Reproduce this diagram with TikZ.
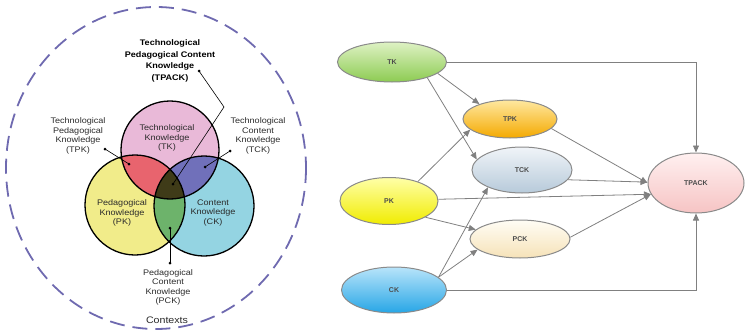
\documentclass[tikz,border=0pt]{standalone}
\usepackage{fontspec}
\setmainfont{Liberation Sans}
\newfontfamily\lbl[FakeStretch=1.12]{Liberation Sans}
\usetikzlibrary{shapes.geometric,arrows.meta}
\definecolor{tkc}{HTML}{E9B9D8}
\definecolor{pkc}{HTML}{F1EC8A}
\definecolor{ckc}{HTML}{94D4E2}
\definecolor{tpkc}{HTML}{E8646E}
\definecolor{tckc}{HTML}{7070BA}
\definecolor{pckc}{HTML}{6DB36B}
\definecolor{allc}{HTML}{3F3B18}
\definecolor{ctxc}{HTML}{6F6AB0}
\definecolor{edgec}{HTML}{808080}
\definecolor{rimc}{HTML}{8A8A8A}
\definecolor{txtc}{HTML}{2A2A2A}
\tikzset{
  lab/.style={inner sep=0pt, align=center, text=txtc, font=\lbl\fontsize{8.1}{9.5}\selectfont},
  blab/.style={inner sep=0pt, align=center, text=black, font=\lbl\bfseries\fontsize{8.1}{11.5}\selectfont},
  ptr/.style={line width=0.6pt, black},
  pdot/.style={circle, fill=black, inner sep=0pt, minimum size=3pt},
  knode/.style={ellipse, draw=rimc, line width=1pt, inner sep=0pt, text=black!70,
     font=\bfseries\fontsize{7}{8}\selectfont, shading=axis},
  arr/.style={draw=edgec, line width=0.8pt, -{Triangle[length=7pt,width=6pt]}},
}
\begin{document}
\begin{tikzpicture}[x=1pt,y=-1pt]
\useasboundingbox (0,0) rectangle (745,332);
% ---------- left: Venn diagram ----------
\draw[ctxc, line width=1.8pt, dash pattern=on 15pt off 8pt] (156,168) ellipse [x radius=150, y radius=161];
\coordinate (tkO) at (170,150);
\coordinate (pkO) at (135,205);
\coordinate (ckO) at (204,206);
\fill[tkc] (tkO) circle (49);
\fill[pkc] (pkO) circle (50);
\fill[ckc] (ckO) circle (50);
\begin{scope}\clip (tkO) circle (49); \fill[tpkc] (pkO) circle (50); \fill[tckc] (ckO) circle (50);\end{scope}
\begin{scope}\clip (pkO) circle (50); \fill[pckc] (ckO) circle (50);\end{scope}
\begin{scope}\clip (tkO) circle (49); \clip (pkO) circle (50); \fill[allc] (ckO) circle (50);\end{scope}
\draw[line width=1.3pt] (tkO) circle (49);
\draw[line width=1.3pt] (pkO) circle (50);
\draw[line width=1.3pt] (ckO) circle (50);

\node[lab] (tkl) at (167,138) {Technological\\Knowledge\\(TK)};
\node[lab] (pkl) at (122,213) {Pedagogical\\Knowledge\\(PK)};
\node[lab] (ckl) at (213,213) {Content\\Knowledge\\(CK)};
\node[blab] (tpackl) at (170,61) {Technological\\Pedagogical Content\\Knowledge\\(TPACK)};
\node[lab] (tpkl) at (78,136) {Technological\\Pedagogical\\Knowledge\\(TPK)};
\node[lab] (tckl) at (258,136) {Technological\\Content\\Knowledge\\(TCK)};
\node[lab] (pckl) at (168,287.5) {Pedagogical\\Content\\Knowledge\\(PCK)};
\node[inner sep=0pt, text=txtc, font=\lbl\fontsize{9.5}{10}\selectfont] (ctx) at (167,320) {Contexts};

% pointers
\coordinate (a1) at (199,71);  \coordinate (a2) at (224,107); \coordinate (a3) at (173,184);
\coordinate (b1) at (105,149); \coordinate (b2) at (129,164);
\coordinate (c1) at (230,151); \coordinate (c2) at (205,167);
\coordinate (d1) at (170,228); \coordinate (d2) at (170,263);
\draw[ptr] (a1) -- (a2) -- (a3);
\draw[ptr] (b1) -- (b2);
\draw[ptr] (c1) -- (c2);
\draw[ptr] (d1) -- (d2);
\foreach \p in {a1,a3,b1,b2,c1,c2,d1,d2} \node[pdot] at (\p) {};

% ---------- right: graph ----------
\node[knode, minimum width=109pt, minimum height=40pt, top color={rgb,255:red,222;green,242;blue,196}, bottom color={rgb,255:red,141;green,203;blue,82}] (TK) at (392,62) {TK};
\node[knode, minimum width=94pt, minimum height=38pt, top color={rgb,255:red,255;green,232;blue,160}, bottom color={rgb,255:red,244;green,169;blue,0}] (TPK) at (510,119) {TPK};
\node[knode, minimum width=100pt, minimum height=46pt, top color={rgb,255:red,240;green,244;blue,248}, bottom color={rgb,255:red,183;green,202;blue,218}] (TCK) at (522,170) {TCK};
\node[knode, minimum width=98pt, minimum height=47pt, top color={rgb,255:red,255;green,255;blue,168}, bottom color={rgb,255:red,240;green,236;blue,0}] (PK) at (389,201) {PK};
\node[knode, minimum width=100pt, minimum height=38pt, top color={rgb,255:red,255;green,253;blue,245}, bottom color={rgb,255:red,246;green,226;blue,184}] (PCK) at (520,239) {PCK};
\node[knode, minimum width=105pt, minimum height=46pt, top color={rgb,255:red,184;green,228;blue,250}, bottom color={rgb,255:red,39;green,166;blue,230}] (CK) at (394,290) {CK};
\node[knode, minimum width=96pt, minimum height=60pt, top color={rgb,255:red,255;green,240;blue,240}, bottom color={rgb,255:red,246;green,196;blue,196}] (TPACK) at (696,183) {TPACK};

\draw[arr] (TK.east) -| (TPACK.north);
\draw[arr] (CK.east) -| (TPACK.south);
\draw[arr] (TK.-14) -- (TPK.154);
\draw[arr] (TK.-24) -- (TCK.167);
\draw[arr] (PK.34) -- (TPK.-165);
\draw[arr] (PK.-24) -- (PCK.168);
\draw[arr] (PK.2) -- (TPACK.-166);
\draw[arr] (CK.16) -- (TCK.-153);
\draw[arr] (CK.16) -- (PCK.-166);
\draw[arr] (TPK.-13) -- (TPACK.180);
\draw[arr] (TCK.-12) -- (TPACK.179);
\draw[arr] (PCK.2) -- (TPACK.-166);
\end{tikzpicture}
\end{document}
